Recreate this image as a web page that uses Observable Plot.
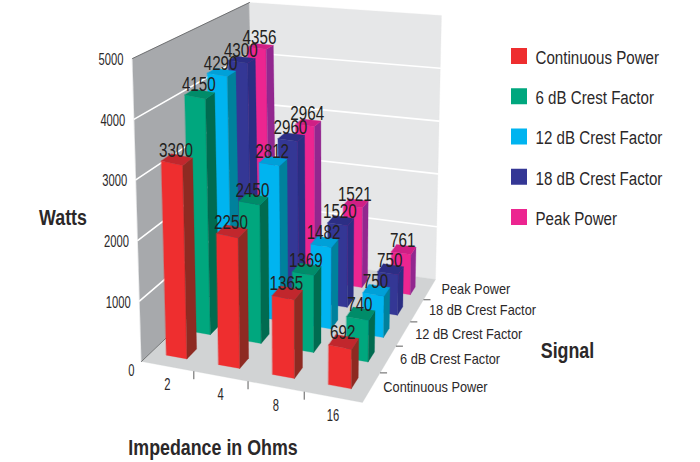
<!DOCTYPE html>
<html>
<head>
<meta charset="utf-8">
<script src="https://cdn.jsdelivr.net/npm/d3@7"></script>
<script src="https://cdn.jsdelivr.net/npm/@observablehq/plot@0.6"></script>
<style>
  html, body { margin: 0; padding: 0; background: #fff; }
  svg { display: block; }
</style>
</head>
<body>
<div id="chart"></div>
<script>
// Output power by load impedance and signal type
const impedances = ["2", "4", "8", "16"];
const signals = ["Continuous Power", "6 dB Crest Factor", "12 dB Crest Factor", "18 dB Crest Factor", "Peak Power"];
const continuousPower = [3300, 2250, 1365, 692];
const crest6dB = [4150, 2450, 1369, 740];
const crest12dB = [4290, 2812, 1482, 750];
const crest18dB = [4300, 2960, 1520, 750];
const peakPower = [4356, 2964, 1521, 761];
const wattTicks = [0, 1000, 2000, 3000, 4000, 5000];

const seriesValues = [continuousPower, crest6dB, crest12dB, crest18dB, peakPower];
const frontColors = ["#ee2e2f", "#00a77e", "#00b4f0", "#343795", "#ec2590"];
const sideColors = ["#8e2a22", "#006b50", "#00819c", "#2b2e83", "#92278f"];
const topColors = ["#c1272d", "#008c69", "#00a0d8", "#2c2e85", "#d01f85"];

const FONT = "'Liberation Sans', sans-serif";
const INK = "#2b2829";

// Floor corners in view space, and how far each corner rises at 5000 W.
const floorCorners = [[141, 361], [362, 402], [435, 279], [254, 253]];
const riseCorners = [[-9, -303], [4, -290], [6, -264], [-5, -251]];

// Maps the unit square onto a quadrilateral (projective transform).
function quadMap([[x0, y0], [x1, y1], [x2, y2], [x3, y3]]) {
  const dx1 = x1 - x2, dx2 = x3 - x2, sx = x0 - x1 + x2 - x3;
  const dy1 = y1 - y2, dy2 = y3 - y2, sy = y0 - y1 + y2 - y3;
  const det = dx1 * dy2 - dx2 * dy1;
  const g = (sx * dy2 - dx2 * sy) / det;
  const h = (dx1 * sy - sx * dy1) / det;
  const a = x1 - x0 + g * x1, b = x3 - x0 + h * x3;
  const d = y1 - y0 + g * y1, e = y3 - y0 + h * y3;
  return (s, t) => {
    const w = g * s + h * t + 1;
    return [(a * s + b * t + x0) / w, (d * s + e * t + y0) / w];
  };
}
const floorAt = quadMap(floorCorners);
const wallHeight = d3.scaleLinear([0, 5000], [0, 1]);
// Bars stand a little inside the walls, so their height scale is slightly shorter
const barHeight = d3.scaleLinear([0, 5000], [0, 0.985]);

// s and t are unit positions along the impedance and signal axes.
function project(s, t, watts, height = wallHeight) {
  const [fx, fy] = floorAt(s, t);
  const [c00, c10, c11, c01] = riseCorners;
  const k = height(watts);
  const rise = (n) =>
    (1 - t) * ((1 - s) * c00[n] + s * c10[n]) + t * ((1 - s) * c01[n] + s * c11[n]);
  return { x: fx + rise(0) * k, y: fy + rise(1) * k };
}

const impedanceBand = d3.scaleBand(impedances, [0, 1]).paddingInner(0.6).paddingOuter(0.3);
const signalBand = d3.scaleBand(signals, [0, 1]).paddingInner(0.6).paddingOuter(0.3);
// The bar rows sit slightly forward of the depth axis divisions
const rowBand = d3.scaleBand(signals, [0.012, 0.96]).paddingInner(0.6).paddingOuter(0.3);
const bw = impedanceBand.bandwidth(), bd = rowBand.bandwidth();

const face = (key, fill, corners, height) =>
  corners.map(([s, t, w]) => ({ key, fill, ...project(s, t, w, height) }));

// Walls and floor
const shell = [
  ...face("left", "#a7a9ac", [[0, 0, 0], [0, 1, 0], [0, 1, 5000], [0, 0, 5000]]),
  ...face("back", "#e6e7e8", [[0, 1, 0], [1, 1, 0], [1, 1, 5000], [0, 1, 5000]]),
  ...face("floor", "#d1d3d4", [[0, 0, 0], [1, 0, 0], [1, 1, 0], [0, 1, 0]])
];

// Bars are painted back row first, left to right within a row
const barFaces = [];
const valueLabels = [];
for (let j = signals.length - 1; j >= 0; --j) {
  impedances.forEach((imp, i) => {
    const w = seriesValues[j][i];
    const s0 = impedanceBand(imp), s1 = s0 + bw;
    const t0 = rowBand(signals[j]), t1 = t0 + bd;
    const id = `${j}-${i}`;
    barFaces.push(
      ...face(id + "f", frontColors[j], [[s0, t0, 0], [s1, t0, 0], [s1, t0, w], [s0, t0, w]], barHeight),
      ...face(id + "s", sideColors[j], [[s1, t0, 0], [s1, t1, 0], [s1, t1, w], [s1, t0, w]], barHeight),
      ...face(id + "t", topColors[j], [[s0, t0, w], [s1, t0, w], [s1, t1, w], [s0, t1, w]], barHeight)
    );
    valueLabels.push({ text: String(w), ...project(s0 + bw / 2, t0 + bd / 2, w, barHeight) });
  });
}

// Grid lines run along the left wall, then across the back wall
const gridLines = wattTicks.filter((w) => w > 0 && w < 5000).flatMap((w) => [
  { w, ...project(0, 0, w) }, { w, ...project(0, 1, w) }, { w, ...project(1, 1, w) }
]);
const leftEdges = [
  { e: "top", ...project(0, 0, 5000) }, { e: "top", ...project(0, 1, 5000) },
  { e: "bottom", ...project(0, 0, 0) }, { e: "bottom", ...project(0, 1, 0) }
];

const wattLabels = wattTicks.map((w) => ({ text: String(w), ...project(0, 0, w) }));
const impedanceTicks = [0.25, 0.5, 0.75].map((s) => project(s, 0, 0));
const signalTicks = [0.2, 0.4, 0.6, 0.8].map((t) => project(1, t, 0));
const impedanceLabels = impedances.map((text) => ({ text, ...project(impedanceBand(text) + bw / 2, 0, 0) }));
const signalLabels = signals.map((text) => ({ text, ...project(1, signalBand(text) + bd / 2, 0) }));

// Legend stacked in the right-hand column
const legendY = d3.scalePoint(signals, [56, 217]);
const swatchSize = 16;

const polygons = (data) => Plot.line(data, {
  x: "x", y: "y", z: "key", fill: "fill", stroke: "fill", strokeWidth: 0.3, curve: "linear-closed"
});

const chart = Plot.plot({
  width: 700,
  height: 462,
  margin: 0,
  x: { type: "identity", axis: null },
  y: { type: "identity", axis: null },
  color: { type: "identity" },
  style: { fontFamily: FONT, background: "#fff" },
  marks: [
    polygons(shell),
    Plot.line(gridLines, { x: "x", y: "y", z: "w", stroke: "#fff", strokeWidth: 1.6 }),
    Plot.line(leftEdges, { x: "x", y: "y", z: "e", stroke: "#58595b", strokeWidth: 0.8 }),
    polygons(barFaces),
    Plot.link(impedanceTicks, { x1: "x", y1: "y", x2: "x", y2: (d) => d.y + 8, stroke: "#333", strokeWidth: 0.8 }),
    Plot.link(signalTicks, { x1: "x", y1: "y", x2: (d) => d.x + 7, y2: "y", stroke: "#333", strokeWidth: 0.8 }),
    Plot.text(wattLabels.filter((d) => d.text !== "0"), {
      x: "x", y: "y", text: "text", dx: -9, dy: 1.5, textAnchor: "end", fontSize: 16, fill: INK, className: "ticks"
    }),
    Plot.text(wattLabels.filter((d) => d.text === "0"), {
      x: "x", y: "y", text: "text", dx: -7, dy: 9, textAnchor: "end", fontSize: 16, fill: INK, className: "ticks"
    }),
    Plot.text(impedanceLabels, { x: "x", y: "y", text: "text", dy: 19, fontSize: 16, fill: INK, className: "ticks" }),
    Plot.text(signalLabels, { x: "x", y: "y", text: "text", dx: 12, textAnchor: "start", fontSize: 14.5, fill: INK, className: "signals" }),
    Plot.text(valueLabels, {
      x: "x", y: "y", text: "text", dx: -1, dy: -9, fontSize: 20, fill: "#231f20", className: "values"
    }),
    Plot.rect(signals, {
      x1: () => 511, x2: () => 511 + swatchSize,
      y1: (d) => legendY(d) - swatchSize / 2, y2: (d) => legendY(d) + swatchSize / 2,
      fill: (d, i) => frontColors[i]
    }),
    Plot.text(signals, {
      x: () => 535, y: (d) => legendY(d) + 1.5, text: (d) => d, textAnchor: "start", fontSize: 18, fill: INK, className: "legendLabels"
    }),
    Plot.text([
      { text: "Watts", x: 62.5, y: 217.5 },
      { text: "Signal", x: 567, y: 350.5 },
      { text: "Impedance in Ohms", x: 212.5, y: 447.5 }
    ], { x: "x", y: "y", text: "text", fontSize: 22, fontWeight: "bold", fill: INK, className: "titles" })
  ]
});

document.getElementById("chart").append(chart);

// The labels use a condensed setting: squeeze each text run horizontally.
const squeeze = { ticks: 0.7, signals: 0.88, values: 0.76, legendLabels: 0.84, titles: 0.81 };
for (const [name, factor] of Object.entries(squeeze)) {
  chart.querySelectorAll(`.${name} text`).forEach((node) => {
    node.setAttribute("textLength", node.getComputedTextLength() * factor);
    node.setAttribute("lengthAdjust", "spacingAndGlyphs");
  });
}
</script>
</body>
</html>
